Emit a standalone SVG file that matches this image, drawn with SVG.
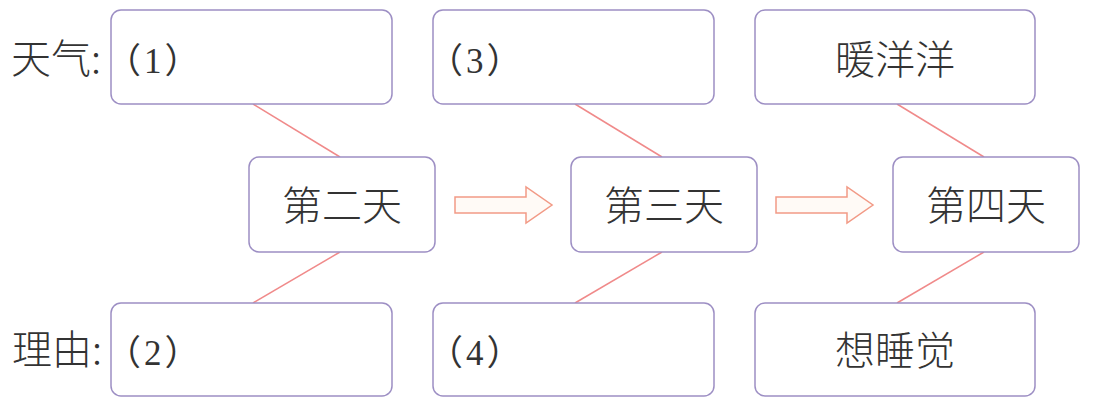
<svg xmlns="http://www.w3.org/2000/svg" width="1097" height="401" viewBox="0 0 1097 401">
<style>
.box{fill:#fff;stroke:#9d8fc4;stroke-width:1.5}
.t{font-family:"Noto Sans CJK SC","Noto Sans",sans-serif;font-size:40px;font-weight:300;fill:#333;text-anchor:middle}
.lab{font-family:"Noto Sans CJK SC","Noto Sans",sans-serif;font-size:40px;font-weight:300;fill:#333}
.num{font-family:"Liberation Serif","Noto Sans CJK SC",serif;font-size:35px;fill:#333;letter-spacing:3px}
.con{stroke:#f08a8a;stroke-width:1.5;fill:none}
.arr{fill:#fffaf6;stroke:#f29a86;stroke-width:1.5}
</style>
<rect width="1097" height="401" fill="#fff"/>
<g id="labels">
<text class="lab" x="11" y="73">天气:</text>
<text class="lab" x="12" y="364">理由:</text>
</g>
<g id="connectors">
<line class="con" x1="253" y1="104" x2="340" y2="157"/>
<line class="con" x1="340" y1="252" x2="253" y2="303"/>
<line class="con" x1="575" y1="104" x2="662" y2="157"/>
<line class="con" x1="662" y1="252" x2="575" y2="303"/>
<line class="con" x1="897" y1="104" x2="984" y2="157"/>
<line class="con" x1="984" y1="252" x2="897" y2="303"/>
<path class="arr" d="M455,197 H526 V187 L552,205 L526,223 V213 H455 Z"/>
<path class="arr" d="M776,197 H847 V187 L873,205 L847,223 V213 H776 Z"/>
</g>
<g id="top1"><rect class="box" x="111" y="10" width="281" height="94" rx="10"/><text class="num" x="106" y="73">（1）</text></g>
<g id="top2"><rect class="box" x="433" y="10" width="281" height="94" rx="10"/><text class="num" x="428" y="73">（3）</text></g>
<g id="top3"><rect class="box" x="755" y="10" width="280" height="94" rx="10"/><text class="t" x="895" y="74">暖洋洋</text></g>
<g id="day2"><rect class="box" x="249" y="157" width="186" height="95" rx="10"/><text class="t" x="342" y="220">第二天</text></g>
<g id="day3"><rect class="box" x="571" y="157" width="186" height="95" rx="10"/><text class="t" x="664" y="220">第三天</text></g>
<g id="day4"><rect class="box" x="893" y="157" width="186" height="95" rx="10"/><text class="t" x="986" y="220">第四天</text></g>
<g id="bot1"><rect class="box" x="111" y="303" width="281" height="93" rx="10"/><text class="num" x="106" y="365">（2）</text></g>
<g id="bot2"><rect class="box" x="433" y="303" width="281" height="93" rx="10"/><text class="num" x="428" y="365">（4）</text></g>
<g id="bot3"><rect class="box" x="755" y="303" width="280" height="93" rx="10"/><text class="t" x="895" y="365">想睡觉</text></g>
</svg>
